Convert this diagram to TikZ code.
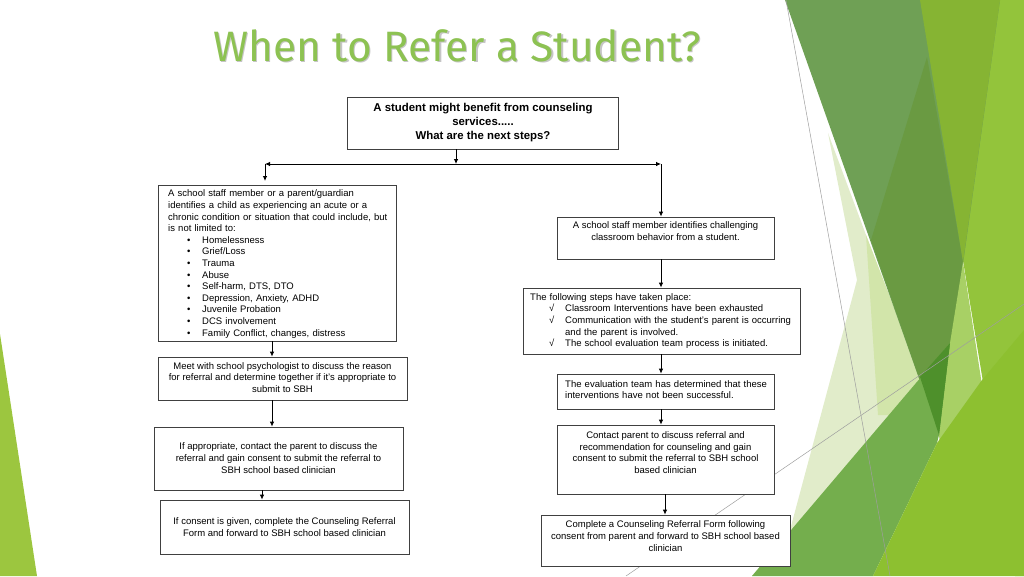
\documentclass[tikz,border=0pt]{standalone}
\usepackage{fontspec}
\setmainfont{Liberation Sans}
\newfontfamily\titlefont{Fira Sans}
\usetikzlibrary{arrows.meta,shadows}
\definecolor{gPale}{HTML}{E1ECCA}
\definecolor{gSat}{HTML}{D2E5AA}
\definecolor{gBright}{HTML}{93C43B}
\definecolor{gMuted}{HTML}{6FA055}
\definecolor{gMutedDk}{HTML}{6A9A42}
\definecolor{gOlive}{HTML}{86B433}
\definecolor{gLight}{HTML}{A8D065}
\definecolor{gMed}{HTML}{74AE4D}
\definecolor{gDark}{HTML}{4E902B}
\definecolor{gYel}{HTML}{8DC030}
\definecolor{gLeft}{HTML}{9CC63F}
\definecolor{titlegreen}{RGB}{141,194,82}
\newcommand\bltline[1]{\hspace*{19pt}\makebox[15pt][l]{•}#1}
\newcommand\chkline[1]{\hspace*{19pt}\makebox[16pt][l]{√}#1}
\begin{document}
\begin{tikzpicture}[x=1pt,y=-1pt,
  box/.style={draw=black!75, line width=0.8pt, fill=white, inner sep=0pt,
    drop shadow={shadow xshift=1.2pt, shadow yshift=-1.2pt, fill=black!45, opacity=0.6}},
  txt/.style={font=\fontsize{9.5}{11.6}\selectfont, inner sep=0pt},
  arr/.style={-{Latex[length=5pt,width=4.5pt]}, line width=0.8pt},
  thin/.style={draw=black!38, line width=0.5pt},
  titlestyle/.style={font=\titlefont\fontsize{42.5}{42.5}\selectfont, anchor=base}]
\useasboundingbox (0,0) rectangle (1024,576);
% background decoration
\fill[gPale] (828,133) -- (935,420) -- (873,576) -- (752,576) -- (790,530) -- (857,280) -- cycle;
\fill[gSat] (866,235) -- (921,377) -- (895,415) -- (878,415) -- cycle;
\fill[gBright] (920,0) -- (1024,0) -- (1024,576) -- (1015,576) -- cycle;
\fill[gMuted] (785,0) -- (1000,0) -- (939,435) -- cycle;
\fill[gMutedDk] (927,57) -- (963,262) -- (939,435) -- (871,240) -- cycle;
\fill[gOlive] (920,0) -- (1000,0) -- (963,262) -- cycle;
\fill[gLight] (963,262) -- (982,385) -- (940,445) -- (939,435) -- (950,343) -- cycle;
\fill[gMed] (752,576) -- (950,343) -- (939,435) -- (937,443) -- (873,576) -- cycle;
\fill[gDark] (920,377) -- (950,343) -- (939,435) -- cycle;
\fill[gYel] (873,576) -- (937,443) -- (982,380) -- (1024,330) -- (1024,576) -- cycle;
\fill[gLeft] (0,334) -- (37,576) -- (0,576) -- cycle;
\coordinate (la) at (786,0);
\coordinate (lb) at (890,576);
\coordinate (lc) at (626,576);
\coordinate (ld) at (1024,304);
\draw[thin] (la) -- (lb);
\draw[thin] (lc) -- (ld);
% title
\node[titlestyle, text=black!45, opacity=0.5] (titleshadow) at (458.5,62.5) {When to Refer a Student?};
\node[titlestyle, text=titlegreen] (title) at (457,61) {When to Refer a Student?};
% boxes
\node[box, minimum width=271, minimum height=52] (top) at (482.5,123) {};
\node[box, minimum width=238, minimum height=156] (l1) at (277,263) {};
\node[box, minimum width=249, minimum height=43] (l2) at (282.5,378.5) {};
\node[box, minimum width=249, minimum height=63] (l3) at (278.5,458.5) {};
\node[box, minimum width=249, minimum height=54] (l4) at (284.5,527) {};
\node[box, minimum width=217, minimum height=42] (r1) at (665.5,238) {};
\node[box, minimum width=277, minimum height=66] (r2) at (661.5,321) {};
\node[box, minimum width=217, minimum height=35] (r3) at (665.5,391.5) {};
\node[box, minimum width=217, minimum height=69] (r4) at (665.5,459.5) {};
\node[box, minimum width=249, minimum height=51] (r5) at (665.5,540.5) {};
% texts
\node[txt, font=\bfseries\fontsize{11.4}{13.6}\selectfont, align=center] (topt) at (483,122.5)
  {A student might benefit from counseling\\ services.....\\ What are the next steps?};
\node[txt, anchor=west, text width=232pt, align=left] (l1t) at (168,264)
  {A school staff member or a parent/guardian\\
   identifies a child as experiencing an acute or a\\
   chronic condition or situation that could include, but\\
   is not limited to:\\
   \bltline{Homelessness}\\
   \bltline{Grief/Loss}\\
   \bltline{Trauma}\\
   \bltline{Abuse}\\
   \bltline{Self-harm, DTS, DTO}\\
   \bltline{Depression, Anxiety, ADHD}\\
   \bltline{Juvenile Probation}\\
   \bltline{DCS involvement}\\
   \bltline{Family Conflict, changes, distress}};
\node[txt, align=center] (l2t) at (282.5,377.5)
  {Meet with school psychologist to discuss the reason\\ for referral and determine together if it’s appropriate to\\ submit to SBH};
\node[txt, align=center] (l3t) at (278.5,458)
  {If appropriate, contact the parent to discuss the\\ referral and gain consent to submit the referral to\\ SBH school based clinician};
\node[txt, align=center] (l4t) at (284.5,527)
  {If consent is given, complete the Counseling Referral\\ Form and forward to SBH school based clinician};
\node[txt, align=center] (r1t) at (665.5,231)
  {A school staff member identifies challenging\\ classroom behavior from a student.};
\node[txt, anchor=west, text width=272pt, align=left] (r2t) at (530,321)
  {The following steps have taken place:\\
   \chkline{Classroom Interventions have been exhausted}\\
   \chkline{Communication with the student’s parent is occurring}\\
   \hspace*{35pt}and the parent is involved.\\
   \chkline{The school evaluation team process is initiated.}};
\node[txt, anchor=west, text width=210pt, align=left] (r3t) at (565,389.5)
  {The evaluation team has determined that these\\ interventions have not been successful.};
\node[txt, align=center] (r4t) at (665.5,452.5)
  {Contact parent to discuss referral and\\ recommendation for counseling and gain\\ consent to submit the referral to SBH school\\ based clinician};
\node[txt, align=center] (r5t) at (665.5,536)
  {Complete a Counseling Referral Form following\\ consent from parent and forward to SBH school based\\ clinician};
% connectors
\coordinate (jn) at (456,164);
\coordinate (hl) at (265,164);
\coordinate (hr) at (661,164);
\coordinate (lend) at (265,181);
\coordinate (cA) at (272,0);
\coordinate (cB) at (262,0);
\coordinate (cR) at (661,0);
\coordinate (cS) at (665,0);
\draw[arr] (top.south -| jn) -- (jn);
\draw[{Latex[length=5pt,width=4.5pt]}-{Latex[length=5pt,width=4.5pt]}, line width=0.8pt] (hl) -- (hr);
\draw[arr] (hl) -- (lend);
\draw[arr] (hr) -- (hr |- r1.north);
\draw[arr] (l1.south -| cA) -- (l2.north -| cA);
\draw[arr] (l2.south -| cA) -- (l3.north -| cA);
\draw[arr] (l3.south -| cB) -- (l4.north -| cB);
\draw[arr] (r1.south -| cR) -- (r2.north -| cR);
\draw[arr] (r2.south -| cR) -- (r3.north -| cR);
\draw[arr] (r3.south -| cR) -- (r4.north -| cR);
\draw[arr] (r4.south -| cS) -- (r5.north -| cS);
\end{tikzpicture}
\end{document}
